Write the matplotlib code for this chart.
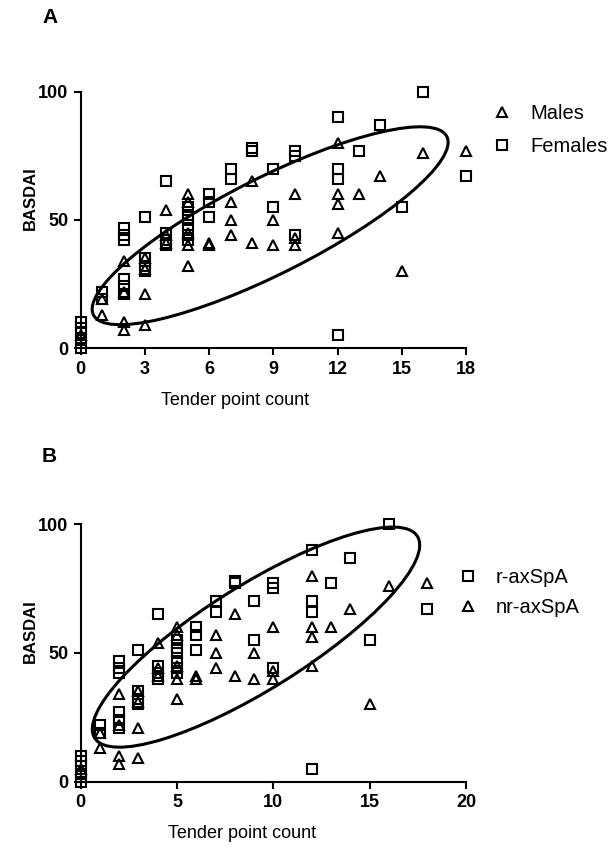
import numpy as np
import matplotlib.pyplot as plt
from matplotlib.patches import Ellipse
from matplotlib.transforms import Affine2D, ScaledTranslation

plt.rcParams['font.family'] = ['Liberation Sans', 'DejaVu Sans']

# Tender point count vs BASDAI, square markers (Females / r-axSpA)
sq_x = [0, 0, 0, 0, 0,
        1, 1,
        2, 2, 2, 2, 2, 2,
        3, 3, 3, 3,
        4, 4, 4, 4,
        5, 5, 5, 5, 5, 5,
        6, 6, 6,
        7, 7,
        8, 8,
        9, 9,
        10, 10, 10,
        12, 12, 12, 12,
        13, 14, 15, 16, 18]
sq_y = [0, 3, 6, 8, 10,
        22, 19,
        47, 44, 42, 27, 24, 21,
        51, 35, 32, 30,
        65, 45, 42, 40,
        55, 52, 50, 47, 44, 42,
        60, 57, 51,
        70, 66,
        78, 77,
        70, 55,
        77, 75, 44,
        90, 70, 66, 5,
        77, 87, 55, 100, 67]

# triangle markers (Males / nr-axSpA)
tri_x = [0,
         1, 1,
         2, 2, 2, 2,
         3, 3, 3, 3,
         4, 4, 4,
         5, 5, 5, 5, 5,
         6, 6,
         7, 7, 7,
         8, 8,
         9, 9,
         10, 10, 10,
         12, 12, 12, 12,
         13, 14, 15, 16, 18]
tri_y = [5,
         19, 13,
         34, 22, 10, 7,
         35, 31, 21, 9,
         54, 44, 41,
         60, 57, 45, 40, 32,
         41, 40,
         57, 50, 44,
         65, 41,
         50, 40,
         60, 43, 40,
         80, 60, 56, 45,
         60, 67, 30, 76, 77]

fig = plt.figure(figsize=(6.10, 8.49), dpi=100)

panels = [
    # rect, xmax, xticks, letter, letter pos, legend order, legend anchor, xlabel x
    dict(rect=[0.1323, 0.5901, 0.6316, 0.3019], xmax=18, xticks=[0, 3, 6, 9, 12, 15, 18],
         letter='A', lpos=(0.069, 0.990), labels=('Males', 'Females'), first='tri',
         leg=(0.806, 0.877), lsp=0.68, ell=(8.85, 47.7, 285, 69, 26.8), xl=0.40),
    dict(rect=[0.1323, 0.0793, 0.6316, 0.3035], xmax=20, xticks=[0, 5, 10, 15, 20],
         letter='B', lpos=(0.069, 0.474), labels=('r-axSpA', 'nr-axSpA'), first='sq',
         leg=(0.750, 0.331), lsp=0.55, ell=(9.1, 56.1, 274, 75, 32), xl=0.42),
]

for p in panels:
    ax = fig.add_axes(p['rect'])
    hs, = ax.plot(sq_x, sq_y, 's', ms=7, mfc='none', mec='black', mew=1.5, clip_on=False)
    ht, = ax.plot(tri_x, tri_y, '^', ms=7.5, mfc='none', mec='black', mew=1.5, clip_on=False)

    cx, cy, w, h, ang = p['ell']
    tr = Affine2D().scale(fig.dpi / 72.0) + ScaledTranslation(cx, cy, ax.transData)
    ax.add_patch(Ellipse((0, 0), w, h, angle=ang, fill=False, lw=2.2, ec='black',
                         transform=tr, clip_on=False))

    ax.set_xlim(0, p['xmax'])
    ax.set_ylim(0, 100)
    ax.set_xticks(p['xticks'])
    ax.set_yticks([0, 50, 100])
    for s in ['top', 'right']:
        ax.spines[s].set_visible(False)
    for s in ['left', 'bottom']:
        ax.spines[s].set_linewidth(1.5)
    ax.tick_params(width=1.5, length=5, labelsize=13, pad=4)
    for lab in ax.get_xticklabels() + ax.get_yticklabels():
        lab.set_fontweight('bold')

    ax.set_xlabel('Tender point count', fontsize=13)
    ax.xaxis.set_label_coords(p['xl'], -0.17)
    ax.set_ylabel('BASDAI', fontsize=12, fontweight='bold')
    ax.yaxis.set_label_coords(-0.11, 0.585)

    fig.text(p['lpos'][0], p['lpos'][1], p['letter'], fontsize=15, fontweight='bold',
             ha='left', va='top')

    if p['first'] == 'tri':
        handles = [ht, hs]
    else:
        handles = [hs, ht]
    fig.legend(handles, p['labels'], loc='upper left', bbox_to_anchor=p['leg'],
               frameon=False, fontsize=14.5, handlelength=1, handletextpad=0.9,
               borderpad=0, borderaxespad=0, labelspacing=p['lsp'], numpoints=1)

fig.savefig('out.png', dpi=100)
